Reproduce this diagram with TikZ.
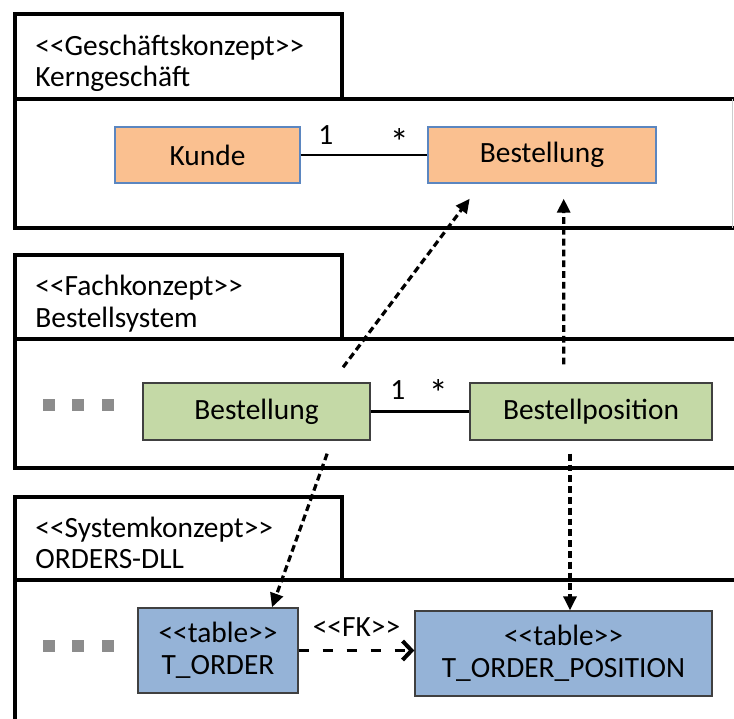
\documentclass[tikz,border=0pt]{standalone}
\usepackage{fontspec}
\setmainfont{Carlito}
\usetikzlibrary{arrows.meta,calc}
\definecolor{peach}{HTML}{FAC090}
\definecolor{peachline}{HTML}{5B86C0}
\definecolor{sage}{HTML}{C4D9A6}
\definecolor{skyblue}{HTML}{95B3D7}
\definecolor{boxline}{HTML}{404040}
\definecolor{dotgray}{HTML}{8C8C8C}

\tikzset{
  pkg/.style={line width=2pt},
  kopf/.style={anchor=base west, inner sep=0pt, font=\fontsize{14.7}{15.5}\selectfont},
  klasse/.style={draw, line width=0.7pt, inner sep=0pt, align=center,
    font=\fontsize{14.7}{16}\selectfont},
  assoc/.style={line width=1.4pt},
  mult/.style={inner sep=0pt, font=\fontsize{14.7}{15.5}\selectfont},
  stern/.style={inner sep=0pt, font=\fontsize{19}{20}\selectfont},
  trace/.style={line width=1.6pt, dash pattern=on 3.4pt off 2pt,
    -{Triangle[length=7pt,width=6.5pt]}},
  fk/.style={line width=1.4pt, dash pattern=on 5pt off 7pt,
    -{Straight Barb[length=4.5pt,width=9.5pt,line width=2pt]}}
}

\begin{document}
\begin{tikzpicture}[x=0.5pt,y=-0.5pt]
\useasboundingbox (0,0) rectangle (734,718);
\clip (0,0) rectangle (734,718);

% Geschaeftskonzept
\draw[pkg] (15,14) rectangle (342,99);
\draw[pkg] (740,99) -- (15,99) -- (15,228) -- (740,228);
\draw[gray!40, line width=0.5pt] (732,99) -- (732,228);
\node[kopf] (gk1) at (35,55) {<{}<Geschäftskonzept>{}>};
\node[kopf] (gk2) at (35,86) {Kerngeschäft};

% Fachkonzept
\draw[pkg] (15,255) rectangle (342,339);
\draw[pkg] (740,339) -- (15,339) -- (15,468) -- (740,468);
\node[kopf] (fk1) at (35,295) {<{}<Fachkonzept>{}>};
\node[kopf] (fk2) at (35,327) {Bestellsystem};

% Systemkonzept
\draw[pkg] (15,497) rectangle (342,580);
\draw[pkg] (740,580) -- (15,580) -- (15,730);
\node[kopf] (sk1) at (35,537) {<{}<Systemkonzept>{}>};
\node[kopf] (sk2) at (35,568) {ORDERS-DLL};

\foreach \x in {49,78,108}{
  \fill[dotgray] (\x-6,399) rectangle (\x+6,411);
  \fill[dotgray] (\x-6,640) rectangle (\x+6,652);
}

% classes
\node[klasse, fill=peach, draw=peachline, minimum width=92.5pt, minimum height=28pt]
  (kunde) at (207.5,155) {Kunde};
\node[klasse, fill=peach, draw=peachline, minimum width=114pt, minimum height=28pt]
  (bestA) at (542,155) {Bestellung};
\node[klasse, fill=sage, draw=boxline, minimum width=113.5pt, minimum height=28.5pt]
  (bestB) at (256.5,411.5) {Bestellung};
\node[klasse, fill=sage, draw=boxline, minimum width=121pt, minimum height=28.5pt]
  (bpos) at (591,411.5) {Bestellposition};
\node[klasse, fill=skyblue, draw=boxline, minimum width=80pt, minimum height=42.5pt]
  (torder) at (218,650.5) {<{}<table>{}>\\T\_ORDER};
\node[klasse, fill=skyblue, draw=boxline, minimum width=148.5pt, minimum height=42.5pt]
  (tpos) at (563.5,653.5) {<{}<table>{}>\\T\_ORDER\_POSITION};

% associations
\draw[assoc] (kunde) -- (bestA);
\node[mult] (m1) at ($(kunde.east)+(25,-20)$) {1};
\node[stern] (m2) at ($(bestA.west)+(-28,-13)$) {*};
\draw[assoc] (bestB) -- (bpos);
\node[mult] (m3) at ($(bestB.east)+(27,-21.5)$) {1};
\node[stern] (m4) at ($(bpos.west)+(-31,-18.5)$) {*};

% traces
\draw[trace, shorten <=9.4pt, shorten >=9.4pt]
  ($(bestB.north)+(75.3,0)$) -- ($(bestA.south)+(-61,0)$);
\draw[trace, shorten <=9pt, shorten >=7.5pt]
  ($(bpos.north)+(-27.3,0)$) -- ($(bestA.south)+(21.7,0)$);
\draw[trace, shorten <=6.9pt]
  ($(bestB.south)+(75.3,0)$) -- ($(torder.north)+(54,0)$);
\draw[trace, shorten <=6.5pt]
  ($(bpos.south)+(-21,0)$) -- ($(tpos.north)+(6.5,0)$);

% foreign key
\draw[fk] (torder.east) -- (torder.east -| tpos.west)
  node[midway, mult, yshift=11.5pt] (fklabel) {<{}<FK>{}>};

\end{tikzpicture}
\end{document}
